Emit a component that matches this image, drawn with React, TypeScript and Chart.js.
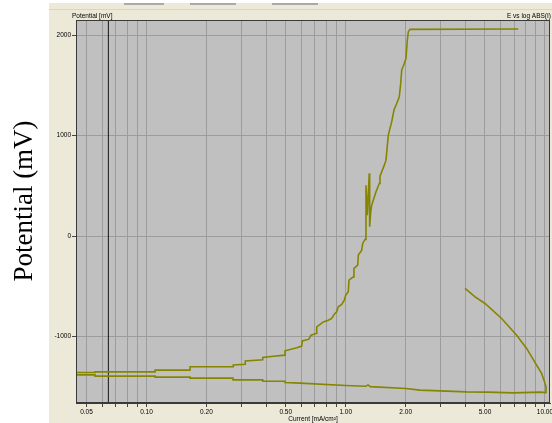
import React, { useEffect, useRef } from "react";
import { Chart, registerables } from "chart.js";

Chart.register(...registerables);

// Forward (anodic) sweep: current density [mA/cm²] and potential [mV]
const upperCurrent = [
  0.04, 0.0552, 0.0552, 0.1105, 0.1105, 0.1655, 0.1655, 0.2727, 0.2727, 0.3132,
  0.3132, 0.3834, 0.3834, 0.4334, 0.496, 0.496, 0.5676, 0.6015, 0.6057, 0.6544,
  0.6697, 0.7096, 0.7153, 0.7722, 0.8179, 0.8508, 0.8767, 0.9012, 0.918, 0.9548,
  0.984, 1.0, 1.03, 1.039, 1.092, 1.1, 1.149, 1.157, 1.203, 1.217,
  1.25, 1.264, 1.283, 1.313, 1.319, 1.335, 1.35, 1.419, 1.474, 1.486,
  1.562, 1.593, 1.636, 1.668, 1.701, 1.747, 1.803, 1.857, 1.888, 1.91,
  1.968, 2.007, 2.038, 2.061, 2.102, 7.35,
];
const upperPotential = [
  -1356, -1356, -1350, -1350, -1333, -1333, -1300, -1300, -1281, -1275,
  -1241, -1230, -1207, -1195, -1184, -1141, -1110, -1094, -1042, -1025,
  -985, -968, -902, -853, -836, -819, -776, -753, -703, -680,
  -637, -587, -554, -438, -405, -321, -289, -189, -139, -73,
  -33, 507, 209, 624, 93, 239, 308, 441, 524, 597,
  706, 756, 1005, 1072, 1137, 1254, 1320, 1386, 1519, 1652,
  1718, 1768, 1950, 2033, 2057, 2060,
];

// Reverse sweep
const reverseCurrent = [
  3.97, 4.46, 5.0, 6.06, 7.21, 8.09, 9.08, 9.62, 9.89, 10.12,
  10.12, 9.44, 6.93, 5.18, 4.05, 2.36, 2.007, 1.33, 1.294, 1.26,
  1.0, 0.59, 0.496, 0.496, 0.3834, 0.3834, 0.272, 0.272, 0.1655, 0.1655,
  0.1105, 0.1105, 0.0552, 0.0552, 0.04,
];
const reversePotential = [
  -520, -604, -670, -819, -985, -1117, -1284, -1366, -1433, -1499,
  -1557, -1552, -1559, -1552, -1549, -1532, -1515, -1497, -1480, -1494,
  -1486, -1462, -1456, -1443, -1443, -1430, -1430, -1413, -1413, -1403,
  -1403, -1393, -1393, -1380, -1380,
];

// Cursor line
const cursorCurrent = [0.0644, 0.0644];
const cursorPotential = [-1660, 2150];

const xMin = 0.0443;
const xMax = 10.6;
const yMin = -1660;
const yMax = 2150;

const xGridTicks = [
  0.05, 0.06, 0.07, 0.08, 0.09,
  0.1, 0.2, 0.3, 0.4, 0.5, 0.6, 0.7, 0.8, 0.9,
  1, 2, 3, 4, 5, 6, 7, 8, 9, 10,
];
const xLabelTicks = [0.05, 0.1, 0.2, 0.5, 1, 2, 5, 10];
const yTicks = [-1000, 0, 1000, 2000];

const OLIVE = "#858500";
const SMALL_FONT = { family: "Liberation Sans", size: 6.5 };

const toPoints = (xs: number[], ys: number[]) => xs.map((x, i) => ({ x, y: ys[i] }));

const backgroundPlugin = {
  id: "panelBackground",
  beforeDraw(chart: any) {
    const { ctx, width, height, chartArea } = chart;
    ctx.save();
    ctx.fillStyle = "#ffffff";
    ctx.fillRect(0, 0, width, height);
    ctx.fillStyle = "#ECE9D8";
    ctx.fillRect(49, 3, width - 49, height - 3);
    ctx.fillStyle = "#a9a9a9";
    ctx.fillRect(124, 3, 40, 2);
    ctx.fillRect(190, 3, 46, 2);
    ctx.fillRect(272, 3, 46, 2);
    ctx.fillStyle = "#d9d5c3";
    ctx.fillRect(49, 9, width - 49, 1);
    ctx.fillStyle = "#C0C0C0";
    ctx.fillRect(chartArea.left, chartArea.top, chartArea.right - chartArea.left, chartArea.bottom - chartArea.top);

    ctx.fillStyle = "#000";
    ctx.font = "6.5px 'Liberation Sans'";
    ctx.textBaseline = "middle";
    ctx.textAlign = "left";
    ctx.fillText("Potential [mV]", 72, 16);
    ctx.textAlign = "right";
    ctx.fillText("E vs log ABS(I)", 551, 16);

    ctx.translate(25, 201);
    ctx.rotate(-Math.PI / 2);
    ctx.textAlign = "center";
    ctx.font = "27px 'Liberation Serif'";
    ctx.fillText("Potential (mV)", 0, 0);
    ctx.restore();
  },
  afterDatasetsDraw(chart: any) {
    const { ctx, chartArea } = chart;
    ctx.save();
    ctx.strokeStyle = "#3a3a3a";
    ctx.lineWidth = 1;
    ctx.strokeRect(chartArea.left + 0.5, chartArea.top + 0.5, chartArea.right - chartArea.left - 1, chartArea.bottom - chartArea.top - 1);
    ctx.restore();
  },
};

export default function App() {
  const canvasRef = useRef<HTMLCanvasElement | null>(null);

  useEffect(() => {
    document.body.style.margin = "0";
    const canvas = canvasRef.current;
    if (!canvas) return;
    const chart = new Chart(canvas, {
      type: "scatter",
      data: {
        datasets: [
          {
            data: toPoints(upperCurrent, upperPotential),
            showLine: true,
            borderColor: OLIVE,
            borderWidth: 1.6,
            pointRadius: 0,
            tension: 0,
          },
          {
            data: toPoints(reverseCurrent, reversePotential),
            showLine: true,
            borderColor: OLIVE,
            borderWidth: 1.6,
            pointRadius: 0,
            tension: 0,
          },
          {
            data: toPoints(cursorCurrent, cursorPotential),
            showLine: true,
            borderColor: "#151515",
            borderWidth: 1,
            pointRadius: 0,
          },
        ],
      },
      options: {
        animation: false,
        responsive: false,
        layout: { padding: { left: 0, top: 20, right: 2, bottom: 0 } },
        plugins: {
          legend: { display: false },
          tooltip: { enabled: false },
        },
        scales: {
          x: {
            type: "logarithmic",
            min: xMin,
            max: xMax,
            afterBuildTicks: (s: any) => {
              s.ticks = xGridTicks.map((v) => ({ value: v }));
            },
            afterFit: (s: any) => {
              s.height = 20;
              s.paddingLeft = 0;
              s.paddingRight = 0;
            },
            ticks: {
              autoSkip: false,
              maxRotation: 0,
              minRotation: 0,
              padding: 1,
              color: "#000",
              font: SMALL_FONT,
              callback: (value: any) => {
                const v = Number(value);
                return xLabelTicks.some((t) => Math.abs(t - v) / t < 1e-6) ? v.toFixed(2) : "";
              },
            },
            grid: { color: "#9c9c9c", tickColor: "#444", tickLength: 4, lineWidth: 1 },
            border: { display: true, color: "#3a3a3a" },
            title: {
              display: true,
              text: "Current [mA/cm²]",
              color: "#000",
              font: SMALL_FONT,
              padding: { top: 0, bottom: 0 },
            },
          },
          y: {
            type: "linear",
            min: yMin,
            max: yMax,
            afterBuildTicks: (s: any) => {
              s.ticks = yTicks.map((v) => ({ value: v }));
            },
            afterFit: (s: any) => {
              s.width = 76;
              s.paddingTop = 0;
              s.paddingBottom = 0;
            },
            ticks: {
              padding: 1,
              color: "#000",
              font: SMALL_FONT,
              callback: (value: any) => String(value),
            },
            grid: { color: "#9c9c9c", tickColor: "#444", tickLength: 4, lineWidth: 1 },
            border: { display: true, color: "#3a3a3a" },
          },
        },
      },
      plugins: [backgroundPlugin],
    } as any);
    return () => chart.destroy();
  }, []);

  return (
    <div style={{ width: 552, height: 423 }}>
      <canvas ref={canvasRef} width={552} height={423} style={{ display: "block" }} />
    </div>
  );
}
